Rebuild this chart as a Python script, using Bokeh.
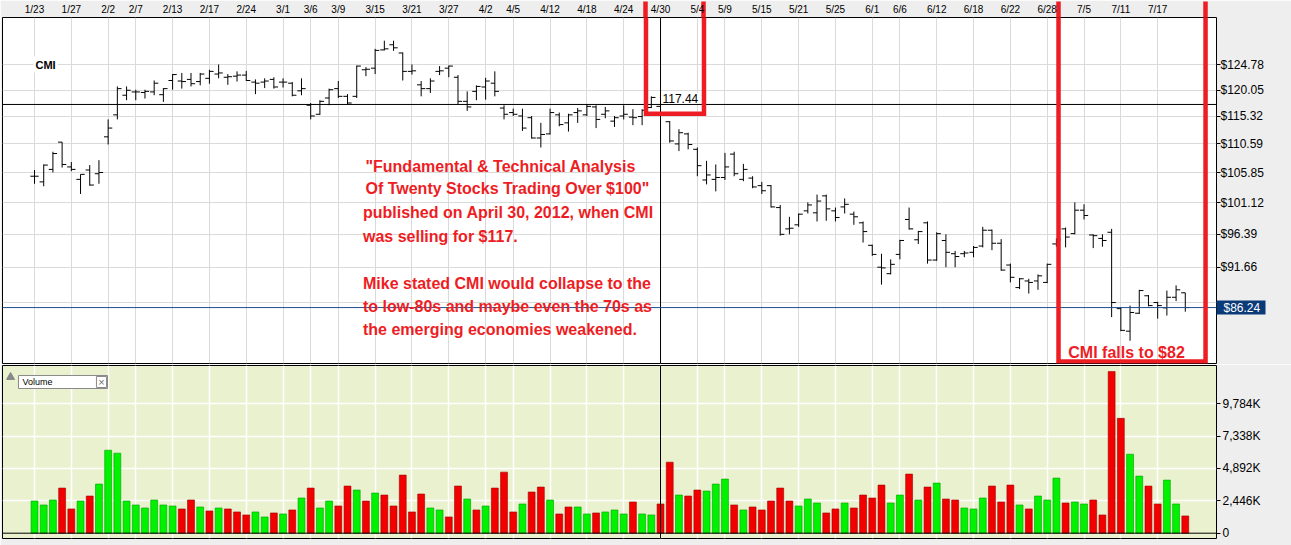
from bokeh.plotting import figure
from bokeh.models import (Range1d, FixedTicker, PrintfTickFormatter, Label, Span,
                          BoxAnnotation, ColumnDataSource, LogAxis)
from bokeh.layouts import column
from bokeh.embed import file_html
from bokeh.resources import INLINE

# ---------------- data ----------------
date_labels = ["1/23", "1/27", "2/2", "2/7", "2/13", "2/17", "2/24", "3/1", "3/6", "3/9",
               "3/15", "3/21", "3/27", "4/2", "4/5", "4/12", "4/18", "4/24", "4/30", "5/4",
               "5/9", "5/15", "5/21", "5/25", "6/1", "6/6", "6/12", "6/18", "6/22", "6/28",
               "7/5", "7/11", "7/17"]
label_idx = [0, 4, 8, 11, 15, 19, 23, 27, 30, 33, 37, 41, 45, 49, 52, 56, 60, 64, 68, 72,
             75, 79, 83, 87, 91, 94, 98, 102, 106, 110, 114, 118, 122]

open_ = [105.3, 104.4, 106.4, 110.9, 106.8, 104.8, 106.3, 105.7, 111.8, 115.6,
         119.1, 119.7, 119.6, 119.7, 119.2, 121.8, 121.7, 122.0, 121.6, 122.2,
         123.0, 122.4, 122.6, 122.8, 121.5, 121.5, 122.0, 121.5, 121.3, 119.9,
         117.3, 115.7, 118.6, 120.3, 118.9, 118.9, 123.8, 124.1, 127.6, 128.6,
         127.0, 123.5, 121.0, 120.3, 123.5, 124.1, 122.4, 118.0, 119.8, 120.6,
         121.3, 116.8, 116.0, 115.4, 115.1, 111.6, 112.3, 115.6, 114.2, 116.0,
         115.6, 117.0, 115.7, 114.5, 115.4, 115.2, 115.3, 116.9, 117.1, 114.4,
         110.6, 112.3, 109.7, 104.7, 104.8, 105.1, 108.9, 104.8, 105.0, 103.8,
         103.8, 100.4, 97.2, 97.8, 99.9, 99.6, 102.2, 99.9, 100.5, 99.4,
         98.1, 94.8, 91.7, 90.8, 93.5, 98.6, 95.6, 98.1, 92.7, 95.5,
         93.6, 93.6, 93.8, 94.7, 97.0, 95.1, 92.0, 88.9, 89.8, 89.8,
         89.6, 95.0, 97.2, 96.5, 100.0, 96.3, 95.8, 96.7, 86.1, 83.2,
         85.5, 87.8, 86.9, 86.2, 87.6, 88.2]
high = [106.3, 107.2, 109.3, 110.9, 107.6, 105.6, 107.1, 107.9, 114.8, 120.7,
        120.7, 120.1, 120.1, 121.8, 120.4, 123.0, 123.2, 123.2, 123.2, 123.8,
        124.8, 123.0, 123.5, 123.6, 122.0, 122.2, 122.4, 122.2, 121.5, 122.2,
        117.7, 118.2, 120.3, 121.7, 119.3, 124.6, 124.3, 127.8, 129.4, 129.4,
        127.1, 124.8, 121.7, 122.2, 124.5, 124.6, 122.8, 119.8, 120.9, 122.3,
        123.5, 117.3, 116.7, 116.7, 115.4, 114.2, 116.7, 116.0, 115.8, 116.8,
        117.5, 117.3, 117.0, 115.4, 117.3, 116.6, 116.6, 118.9, 117.9, 114.5,
        113.1, 112.5, 110.0, 107.8, 107.2, 109.1, 109.3, 107.3, 105.3, 104.4,
        103.9, 100.8, 99.0, 99.5, 101.2, 102.4, 102.4, 100.4, 101.8, 99.8,
        98.3, 94.9, 93.6, 92.8, 95.6, 100.4, 96.9, 98.3, 96.7, 96.4,
        94.0, 94.0, 94.7, 97.5, 97.1, 95.7, 92.2, 90.2, 90.1, 90.7,
        92.2, 95.8, 97.4, 101.2, 100.9, 96.4, 96.4, 97.2, 86.3, 86.5,
        88.6, 87.9, 87.0, 88.5, 89.2, 88.2]
low = [104.1, 103.7, 105.9, 106.7, 106.1, 102.5, 103.8, 104.1, 110.5, 114.8,
       118.2, 118.2, 118.5, 119.1, 117.9, 120.1, 120.3, 120.7, 120.9, 121.2,
       122.2, 121.0, 121.6, 121.7, 119.3, 120.4, 120.3, 120.5, 118.9, 119.1,
       114.8, 115.6, 117.3, 118.6, 117.5, 118.6, 122.6, 123.0, 127.5, 127.4,
       121.8, 122.9, 118.9, 119.5, 122.8, 122.4, 117.4, 116.3, 118.2, 118.3,
       118.9, 114.8, 115.4, 112.8, 111.5, 110.0, 112.2, 113.6, 112.7, 114.2,
       115.4, 113.3, 115.0, 113.5, 114.8, 113.8, 113.8, 116.8, 116.5, 110.8,
       109.4, 109.7, 105.3, 104.0, 102.9, 104.7, 105.3, 104.5, 103.4, 102.5,
       100.4, 96.2, 96.4, 97.5, 99.5, 98.3, 98.4, 98.3, 99.5, 97.8,
       95.2, 93.3, 89.3, 90.7, 92.8, 97.1, 95.0, 92.2, 92.6, 91.7,
       91.7, 93.1, 93.1, 94.5, 94.1, 91.2, 89.6, 88.7, 88.1, 88.6,
       89.5, 94.6, 94.5, 96.4, 98.6, 94.4, 94.6, 85.0, 83.2, 82.0,
       85.4, 86.4, 84.8, 85.2, 87.1, 85.7]
close = [105.3, 107.1, 109.0, 107.2, 106.4, 105.6, 103.9, 105.9, 113.3, 120.3,
         120.0, 119.7, 119.8, 121.3, 120.3, 122.9, 121.6, 121.2, 123.0, 123.5,
         123.2, 122.5, 122.8, 121.8, 121.3, 121.7, 120.6, 121.5, 119.1, 120.3,
         115.4, 118.0, 120.1, 118.9, 117.7, 124.5, 123.9, 127.5, 127.8, 128.0,
         123.5, 123.6, 120.3, 121.7, 123.6, 124.5, 118.0, 117.0, 120.7, 121.7,
         119.8, 115.7, 115.7, 113.3, 111.6, 112.2, 116.0, 113.9, 115.6, 116.3,
         117.1, 114.8, 116.3, 115.1, 115.7, 115.1, 116.4, 118.7, 117.44, 111.1,
         112.5, 110.5, 107.0, 105.5, 105.1, 106.8, 105.7, 106.4, 103.6, 103.0,
         100.5, 96.4, 97.3, 99.4, 100.8, 101.4, 100.2, 98.9, 100.9, 99.0,
         96.8, 93.5, 91.6, 92.1, 95.5, 97.2, 96.8, 92.7, 96.5, 93.8,
         93.2, 93.7, 94.5, 97.0, 95.1, 91.3, 90.3, 90.1, 89.6, 90.5,
         92.1, 95.6, 96.0, 100.0, 99.2, 96.2, 95.5, 86.9, 83.3, 85.6,
         88.5, 86.5, 86.5, 87.6, 88.6, 86.24]

volume_k = [2434, 2133, 2509, 3412, 1832, 2434, 2810, 3713, 6273, 6047,
            2434, 2133, 1907, 2509, 2133, 2057, 1832, 2509, 1982, 1681,
            1907, 1832, 1606, 1380, 1606, 1229, 1530, 1455, 1756, 2660,
            3412, 1907, 2434, 2057, 3563, 3262, 2434, 3036, 2885, 2057,
            4391, 1606, 2961, 1907, 1756, 1229, 3563, 2584, 1756, 2057,
            3412, 4617, 1606, 2208, 3111, 3488, 2509, 1455, 1982, 1982,
            1455, 1530, 1606, 1756, 1455, 2358, 1455, 1380, 2208, 5369,
            2885, 2810, 3262, 3186, 3713, 4090, 2133, 1756, 1982, 1756,
            2434, 3412, 2434, 2057, 2584, 2283, 1530, 1832, 2283, 1907,
            2885, 2660, 3638, 2283, 2885, 4466, 2509, 3488, 3789, 2584,
            2509, 1907, 1832, 2660, 3563, 2358, 3638, 2133, 1832, 2810,
            2509, 4165, 2283, 2358, 2208, 2509, 1380, 12219, 8681, 5971,
            4315, 3563, 2208, 4014, 2208, 1305]
vol_up = [1, 1, 1, 0, 0, 1, 0, 1, 1, 1,
          1, 1, 1, 1, 1, 1, 0, 0, 1, 0,
          1, 0, 0, 0, 1, 1, 0, 1, 0, 1,
          0, 1, 1, 0, 0, 1, 0, 1, 0, 0,
          0, 0, 0, 1, 1, 0, 0, 1, 0, 1,
          0, 0, 0, 1, 0, 0, 1, 0, 0, 1,
          1, 0, 1, 1, 1, 0, 1, 1, 0, 0,
          1, 0, 0, 1, 1, 1, 0, 1, 0, 0,
          0, 0, 0, 1, 1, 1, 0, 0, 1, 0,
          0, 0, 0, 1, 1, 0, 1, 0, 1, 0,
          0, 1, 1, 1, 0, 0, 0, 1, 0, 1,
          1, 1, 0, 1, 1, 0, 0, 0, 0, 1,
          1, 0, 0, 1, 1, 0]

price_ticks = [91.66, 96.39, 101.12, 105.85, 110.59, 115.32, 120.05, 124.78]
price_grid = [86.93] + price_ticks
volume_ticks = [0, 2446, 4892, 7338, 9784]
volume_tick_labels = ["0", "2,446K", "4,892K", "7,338K", "9,784K"]
last_price = 86.24
marked_price = 117.44
marked_day = 68
symbol = "CMI"
note_lines = ["\"Fundamental & Technical Analysis",
              "Of Twenty Stocks Trading Over $100\"",
              "published on April 30, 2012, when CMI",
              "was selling for $117.",
              "Mike stated CMI would collapse to the",
              "to low-80s and maybe even the 70s as",
              "the emerging economies weakened."]
box_note = "CMI falls to $82"

# ---------------- styling ----------------
RED = "#EE1D24"
NAVY = "#0A3A78"
BLUE_LINE = "#1D4F8E"
GRID = "#DADADA"
BORDER = "#EEEEEE"
FONT = "Liberation Sans"
W = 1291
HEADER_TICK = 16   # red box edges drawn through the date header
TAG_W = 49         # width of the navy last-price tag

# highlight boxes (index / price extents)
box1 = dict(left=66.42, right=72.72, bottom=115.81)
box2 = dict(left=111.23, right=127.20, bottom=79.45)

x = list(range(len(close)))
src = ColumnDataSource(dict(x=x, xl=[i - 0.45 for i in x], xr=[i + 0.45 for i in x],
                            open=open_, high=high, low=low, close=close))

x_range = Range1d(-3.476, 128.39)

# ---------------- price panel ----------------
p = figure(width=W, height=364, x_range=x_range, y_range=Range1d(79.21, 134.04),
           y_axis_type="log", x_axis_location="above", y_axis_location="right",
           output_backend="svg", toolbar_location=None,
           min_border_left=2, min_border_right=75, min_border_top=16, min_border_bottom=1,
           background_fill_color="white", border_fill_color=BORDER,
           outline_line_color="black", outline_line_width=1)

# top date axis; its minor ticks carry the red box edges through the header
p.xaxis.ticker = FixedTicker(ticks=label_idx,
                             minor_ticks=[box1["left"], box1["right"], box2["left"], box2["right"]])
p.xaxis.major_label_overrides = {i: s for i, s in zip(label_idx, date_labels)}
p.xaxis.axis_line_color = None
p.xaxis.major_tick_line_color = None
p.xaxis.major_tick_out = 0
p.xaxis.major_tick_in = 0
p.xaxis.minor_tick_line_color = RED
p.xaxis.minor_tick_line_width = 4.5
p.xaxis.minor_tick_out = HEADER_TICK
p.xaxis.minor_tick_in = 0
p.xaxis.major_label_standoff = 3 - HEADER_TICK
p.xaxis.major_label_text_font = FONT
p.xaxis.major_label_text_font_size = "10px"
p.xaxis.major_label_text_color = "black"

# right price axis; a minor tick draws the navy last-price tag
p.yaxis.ticker = FixedTicker(ticks=price_ticks, minor_ticks=[last_price])
p.yaxis.formatter = PrintfTickFormatter(format="$%.2f")
p.yaxis.axis_line_color = None
p.yaxis.major_tick_line_color = "black"
p.yaxis.major_tick_out = 4
p.yaxis.major_tick_in = 0
p.yaxis.minor_tick_line_color = NAVY
p.yaxis.minor_tick_line_width = 14
p.yaxis.minor_tick_out = TAG_W
p.yaxis.minor_tick_in = 0
p.yaxis.major_label_standoff = 4 - TAG_W
p.yaxis.major_label_text_font = FONT
p.yaxis.major_label_text_font_size = "12px"
p.yaxis.major_label_text_color = "black"

# second right axis: white text of the last-price tag
tag_axis = LogAxis(ticker=FixedTicker(ticks=[last_price], minor_ticks=[]),
                   formatter=PrintfTickFormatter(format="$%.2f"),
                   axis_line_color=None, major_tick_line_color=None,
                   major_tick_out=0, major_tick_in=0, minor_tick_line_color=None,
                   minor_tick_out=0, major_label_standoff=-43,
                   major_label_text_font=FONT, major_label_text_font_size="12px",
                   major_label_text_color="white")
p.add_layout(tag_axis, "right")

p.xgrid.ticker = FixedTicker(ticks=label_idx)
p.xgrid.grid_line_color = GRID
p.ygrid.ticker = FixedTicker(ticks=price_grid)
p.ygrid.grid_line_color = GRID

# crosshair and last price lines
p.add_layout(Span(location=marked_price, dimension="width", line_color="black", line_width=1))
p.add_layout(Span(location=marked_day, dimension="height", line_color="black", line_width=1))
p.add_layout(Span(location=last_price, dimension="width", line_color=BLUE_LINE, line_width=1))

# OHLC bars
p.segment(x0="x", y0="low", x1="x", y1="high", source=src, line_color="black", line_width=1)
p.segment(x0="xl", y0="open", x1="x", y1="open", source=src, line_color="black", line_width=1)
p.segment(x0="x", y0="close", x1="xr", y1="close", source=src, line_color="black", line_width=1)

# labels
p.add_layout(Label(x=-0.11, y=price_ticks[-1], text=symbol, text_font=FONT,
                   text_font_size="11px", text_font_style="bold", text_color="black",
                   text_baseline="middle", text_align="left",
                   background_fill_color="white", padding=2))
p.add_layout(Label(x=68.1, y=118.56, text=f"{marked_price:.2f}", text_font=FONT,
                   text_font_size="12px", text_color="black", text_baseline="middle",
                   text_align="left", background_fill_color="white", padding=1))

note_y = [106.87, 103.28, 99.67, 96.11, 89.50, 86.43, 83.47]
note_x = [35.95, 35.95, 35.68, 35.68, 35.68, 35.68, 35.68]
for tx, ty, t in zip(note_x, note_y, note_lines):
    p.add_layout(Label(x=tx, y=ty, text=t, text_font=FONT, text_font_size="16px",
                       text_font_style="bold", text_color=RED, text_baseline="middle",
                       text_align="left"))
p.add_layout(Label(x=118.62, y=80.59, text=box_note, text_font=FONT, text_font_size="16px",
                   text_font_style="bold", text_color=RED, text_baseline="middle",
                   text_align="center"))

# red highlight boxes (top edges run off the panel into the header)
for b in (box1, box2):
    p.add_layout(BoxAnnotation(left=b["left"], right=b["right"], top=140.0, bottom=b["bottom"],
                               fill_alpha=0, line_color=RED, line_alpha=1, line_width=4.5,
                               line_join="miter"))

# ---------------- volume panel ----------------
p2 = figure(width=W, height=181, x_range=x_range, y_range=Range1d(-401, 12678),
            y_axis_location="right", output_backend="svg", toolbar_location=None,
            min_border_left=2, min_border_right=75, min_border_top=1, min_border_bottom=7,
            background_fill_color="#EAF1CF", border_fill_color=BORDER,
            outline_line_color="black", outline_line_width=1)
p2.xaxis.visible = False
p2.xgrid.ticker = FixedTicker(ticks=label_idx)
p2.xgrid.grid_line_color = "white"
p2.xgrid.grid_line_width = 1.5
p2.ygrid.ticker = FixedTicker(ticks=volume_ticks[1:])
p2.ygrid.grid_line_color = "white"
p2.ygrid.grid_line_width = 1.5

p2.yaxis.ticker = FixedTicker(ticks=volume_ticks, minor_ticks=[])
p2.yaxis.major_label_overrides = {v: s for v, s in zip(volume_ticks, volume_tick_labels)}
p2.yaxis.axis_line_color = None
p2.yaxis.major_tick_line_color = "black"
p2.yaxis.major_tick_out = 4
p2.yaxis.major_tick_in = 0
p2.yaxis.minor_tick_line_color = None
p2.yaxis.major_label_standoff = 2
p2.yaxis.major_label_text_font = FONT
p2.yaxis.major_label_text_font_size = "12px"
p2.yaxis.major_label_text_color = "black"

vsrc = ColumnDataSource(dict(
    x=x, top=volume_k,
    fill=["#00F200" if u else "#F20000" for u in vol_up],
    edge=["#00A000" if u else "#A00000" for u in vol_up]))
p2.vbar(x="x", top="top", bottom=0, width=0.75, source=vsrc,
        fill_color="fill", line_color="edge", line_width=0.6)
p2.add_layout(Span(location=0, dimension="width", line_color="black", line_width=1))
p2.add_layout(Span(location=marked_day, dimension="height", line_color="black", line_width=1))

# "Volume" legend tag
p2.add_layout(BoxAnnotation(left=-1.74, right=7.93, top=11922, bottom=10939,
                            fill_color="white", fill_alpha=1, line_color="#8A8A8A",
                            line_alpha=1, line_width=1))
p2.add_layout(BoxAnnotation(left=6.73, right=7.82, top=11847, bottom=11015,
                            fill_color="white", fill_alpha=1, line_color="#8A8A8A",
                            line_alpha=1, line_width=1))
p2.add_layout(Label(x=-1.3, y=11430, text="Volume", text_font=FONT, text_font_size="9px",
                    text_color="black", text_baseline="middle", text_align="left"))
p2.add_layout(Label(x=7.28, y=11430, text="×", text_font=FONT, text_font_size="11px",
                    text_color="#707070", text_baseline="middle", text_align="center"))
p2.scatter(x=[-2.6], y=[11800], marker="triangle", size=8, fill_color="#888888",
           line_color="#888888")

layout = column(p, p2, spacing=0)
open("out.html", "w").write(file_html(layout, INLINE))
